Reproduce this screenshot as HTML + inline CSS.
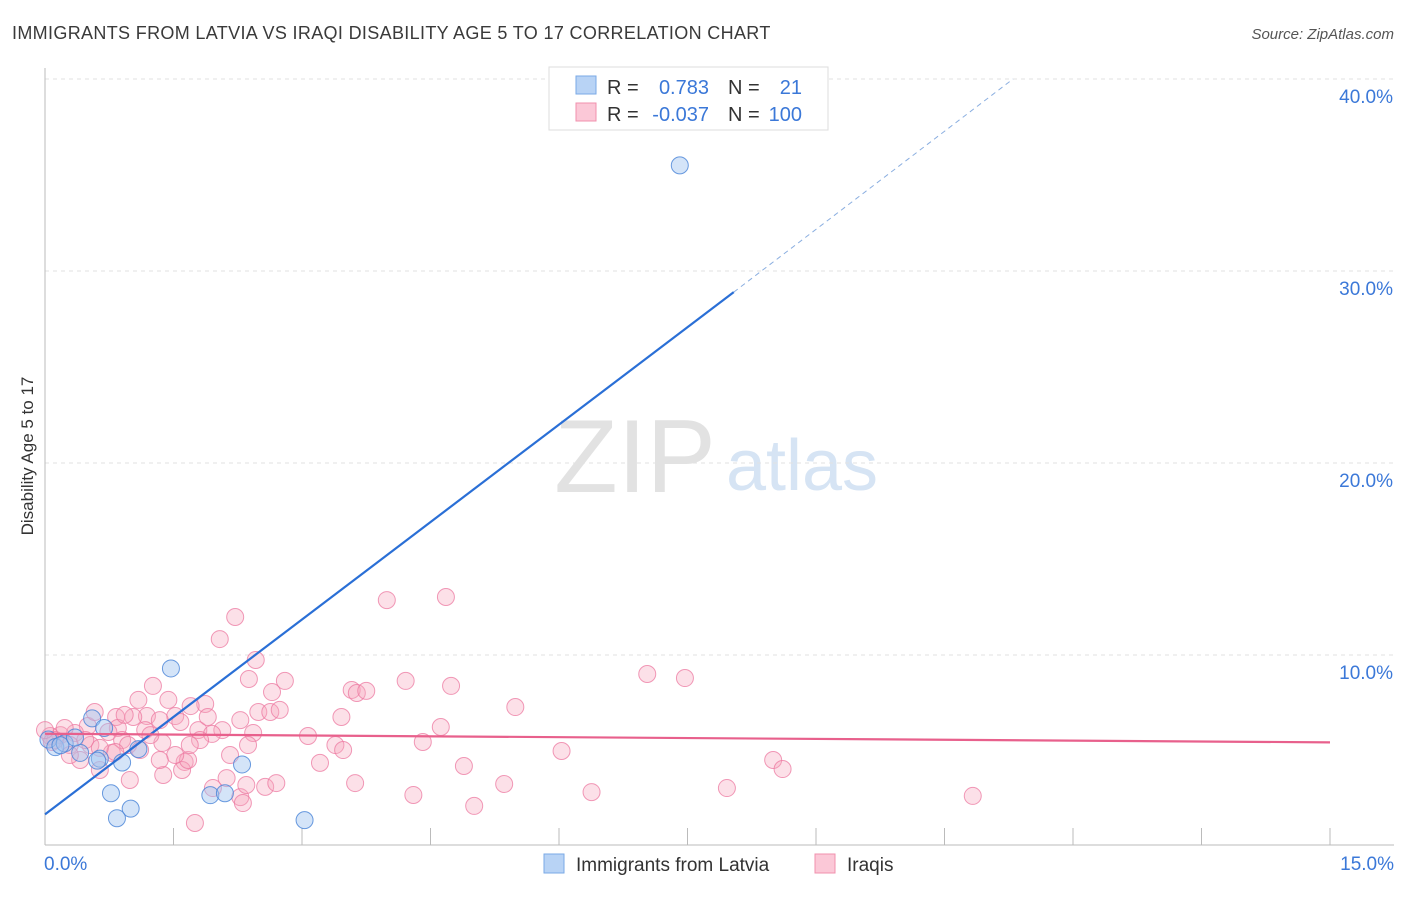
<!DOCTYPE html>
<html><head><meta charset="utf-8">
<style>
body{margin:0;background:#fff;font-family:"Liberation Sans",sans-serif;}
svg text{font-family:"Liberation Sans",sans-serif;}
</style></head>
<body>
<svg id="chart" width="1406" height="892" xmlns="http://www.w3.org/2000/svg">
<text x="12" y="39" font-size="18" fill="#3a3a3a" letter-spacing="0.34">IMMIGRANTS FROM LATVIA VS IRAQI DISABILITY AGE 5 TO 17 CORRELATION CHART</text>
<text x="1394" y="39" font-size="15" fill="#555" text-anchor="end" font-style="italic">Source: ZipAtlas.com</text>
<text transform="translate(33,456) rotate(-90)" font-size="17" fill="#333" text-anchor="middle">Disability Age 5 to 17</text>
<g>
<text x="635" y="492" font-size="104" fill="#e2e2e2" font-family="Liberation Serif" text-anchor="middle">ZIP</text>
<text x="802" y="490" font-size="72" fill="#d6e4f4" text-anchor="middle">atlas</text>
</g>
<g id="grid"></g>
<g id="marks"></g>
<g>
<rect x="549" y="67" width="279" height="63" fill="#fff" stroke="#ddd"/>
<rect x="576" y="76" width="20" height="18" fill="#b8d3f5" stroke="#7aa9e6"/>
<rect x="576" y="103" width="20" height="18" fill="#fbc8d7" stroke="#f090ae"/>
<text x="607" y="94" font-size="20" fill="#333">R =</text>
<text x="709" y="94" font-size="20" fill="#3b78d8" text-anchor="end">0.783</text>
<text x="728" y="94" font-size="20" fill="#333">N =</text>
<text x="802" y="94" font-size="20" fill="#3b78d8" text-anchor="end">21</text>
<text x="607" y="121" font-size="20" fill="#333">R =</text>
<text x="709" y="121" font-size="20" fill="#3b78d8" text-anchor="end">-0.037</text>
<text x="728" y="121" font-size="20" fill="#333">N =</text>
<text x="802" y="121" font-size="20" fill="#3b78d8" text-anchor="end">100</text>
</g>
<g>
<rect x="544" y="854" width="20" height="19" fill="#b8d3f5" stroke="#7aa9e6"/>
<text x="576" y="871" font-size="19" fill="#333">Immigrants from Latvia</text>
<rect x="815" y="854" width="20" height="19" fill="#fbc8d7" stroke="#f090ae"/>
<text x="847" y="871" font-size="19" fill="#333">Iraqis</text>
</g>
</svg>
<script>
const yTicks=[10,20,30,40];
const yTickLabels=["10.0%","20.0%","30.0%","40.0%"];
const xTicks=[0,1.5,3,4.5,6,7.5,9,10.5,12,13.5,15];
const xEdgeLabels=["0.0%","15.0%"];
const latviaX=[7.41,1.47,0.55,0.04,0.12,0.23,0.41,0.64,0.61,0.90,1.09,0.69,0.77,1.00,0.84,1.93,2.10,2.30,3.03,0.18,0.35];
const latviaY=[35.5,9.3,6.7,5.6,5.2,5.4,4.9,4.6,4.5,4.4,5.1,6.2,2.8,2.0,1.5,2.7,2.8,4.3,1.4,5.3,5.7];
const iraqiX=[2.22,2.04,2.46,2.38,2.80,2.65,1.26,1.09,1.87,1.70,2.49,2.63,1.52,1.19,1.03,0.83,1.34,1.58,1.79,2.07,1.95,2.43,0.85,0.50,0.74,0.35,0.18,0.06,0.12,0.29,0.53,0.90,0.97,1.37,1.81,0.78,1.11,0.41,0.64,0.99,1.38,1.63,1.60,1.67,2.12,1.96,2.28,2.35,2.57,2.70,2.31,1.75,3.99,4.68,3.46,3.58,3.64,3.75,4.21,4.74,4.62,3.07,3.39,3.48,4.41,5.49,6.03,7.03,7.47,3.21,3.62,4.89,4.30,5.01,5.36,6.38,7.96,8.50,8.61,10.83,2.37,2.16,1.44,1.17,0.58,0.23,0.08,0.00,0.47,0.82,1.23,1.52,1.90,2.28,2.74,1.34,0.64,0.29,0.93,1.69];
const iraqiY=[11.98,10.83,9.74,8.75,8.65,8.07,8.39,7.66,7.45,7.34,7.03,7.03,6.82,6.82,6.77,6.77,6.61,6.51,6.09,6.09,5.89,5.94,6.20,6.30,5.99,5.94,5.83,5.78,5.57,5.31,5.31,5.57,5.31,5.42,5.57,4.90,5.05,4.53,4.01,3.49,3.75,4.43,4.01,4.53,3.59,3.07,2.60,3.23,3.13,3.33,2.29,1.25,12.86,13.02,6.77,8.18,8.02,8.13,8.65,8.39,6.25,5.78,5.31,5.05,5.47,7.29,5.00,9.01,8.80,4.38,3.33,4.22,2.71,2.14,3.28,2.86,3.07,4.53,4.06,2.66,5.31,4.79,7.66,6.09,7.03,6.20,5.47,6.09,5.57,4.95,5.83,4.79,6.77,6.61,7.14,4.53,5.16,4.79,6.88,5.31];
const latviaLine=[[0,1.7],[8.04,28.9],[11.3,40.0]];
const iraqiLine=[[0,5.9],[15,5.45]];

const NS="http://www.w3.org/2000/svg";
const X0=45,X1=1330,Y0=847,PXY=19.2;
function sx(v){return X0+(X1-X0)*v/15;}
function sy(v){return Y0-v*PXY;}
function mk(tag,attrs,parent){const e=document.createElementNS(NS,tag);for(const k in attrs)e.setAttribute(k,attrs[k]);parent.appendChild(e);return e;}
const grid=document.getElementById('grid'),marks=document.getElementById('marks');
yTicks.forEach((t,i)=>{
  const l=mk('line',{x1:X0,x2:1394,y1:sy(t),y2:sy(t),stroke:'#e2e2e2','stroke-dasharray':'4,4'},grid);
  
  
  const tx=mk('text',{x:1393,y:sy(t)+24,'font-size':19,fill:'#3b78d8','text-anchor':'end'},grid);
  tx.textContent=yTickLabels[i];
  
  
});
const ax=mk('line',{x1:X0,x2:X0,y1:68,y2:845,stroke:'#bbb'},grid);


const bx=mk('line',{x1:X0,x2:1394,y1:845,y2:845,stroke:'#bbb'},grid);


xTicks.forEach(t=>{
  const l=mk('line',{x1:sx(t),x2:sx(t),y1:828,y2:845,stroke:'#bbb'},grid);
  
  
});
[[0,'start',44],[15,'end',1394]].forEach((d,i)=>{
  const tx=mk('text',{x:d[2],y:870,'font-size':19,fill:'#3b78d8','text-anchor':d[1]},grid);
  tx.textContent=xEdgeLabels[i];
  
  
});
iraqiX.forEach((v,i)=>{
  const c=mk('circle',{cx:sx(v),cy:sy(iraqiY[i]),r:8.5,fill:'rgba(246,165,190,0.35)',stroke:'rgba(236,120,160,0.75)','stroke-width':1},marks);
  
  
});
latviaX.forEach((v,i)=>{
  const c=mk('circle',{cx:sx(v),cy:sy(latviaY[i]),r:8.5,fill:'rgba(160,196,240,0.45)',stroke:'rgba(70,130,215,0.8)','stroke-width':1},marks);
  
  
});
const l1=mk('line',{x1:sx(latviaLine[0][0]),y1:sy(latviaLine[0][1]),x2:sx(latviaLine[1][0]),y2:sy(latviaLine[1][1]),stroke:'#2a6fd6','stroke-width':2.2},marks);


const l2=mk('line',{x1:sx(latviaLine[1][0]),y1:sy(latviaLine[1][1]),x2:sx(latviaLine[2][0]),y2:sy(latviaLine[2][1]),stroke:'#8aaee0','stroke-width':1,'stroke-dasharray':'5,4'},marks);


const l3=mk('line',{x1:sx(iraqiLine[0][0]),y1:sy(iraqiLine[0][1]),x2:sx(iraqiLine[1][0]),y2:sy(iraqiLine[1][1]),stroke:'#e8608c','stroke-width':2.2},marks);


</script>
</body></html>
